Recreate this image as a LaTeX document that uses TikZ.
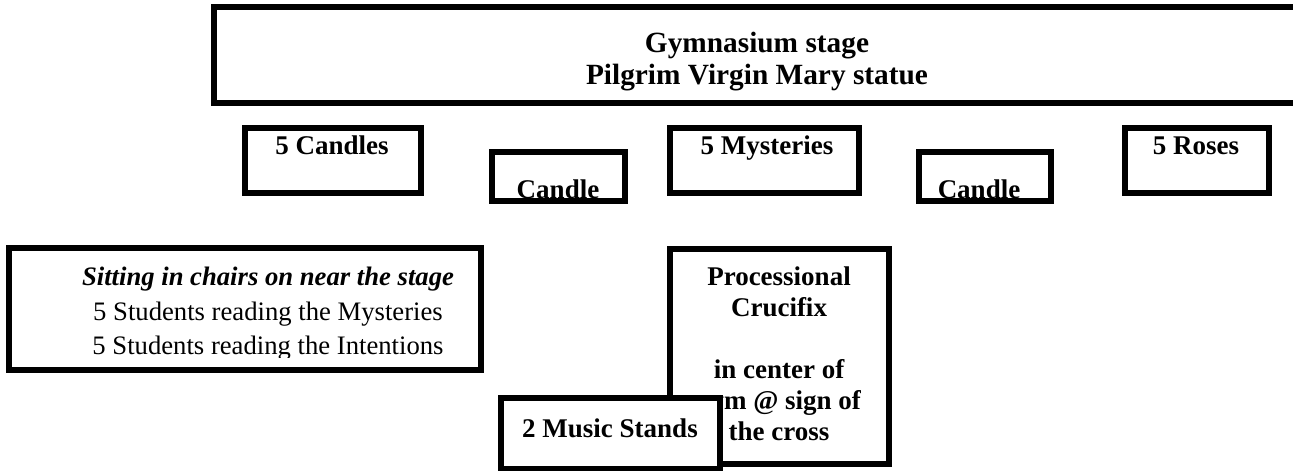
\documentclass[tikz,border=0pt]{standalone}
\usepackage{fontspec}
\setmainfont{Liberation Serif}
\usetikzlibrary{fit}
\begin{document}
\begin{tikzpicture}[x=0.75pt,y=-0.75pt,
  box/.style={draw=black, line width=4pt, fill=white, rectangle, inner sep=0pt, outer sep=0pt},
  lbl/.style={font=\fontsize{20.25}{24}\selectfont\bfseries, inner sep=0pt, anchor=base},
  ttl/.style={font=\fontsize{22}{26}\selectfont\bfseries, inner sep=0pt, anchor=base},
  plain/.style={font=\fontsize{20}{24}\selectfont, inner sep=0pt, anchor=base}]
\useasboundingbox (0,0) rectangle (1293,471);
\clip (0,0) rectangle (1293,471);
% stage
\node[box, fit={(214,7) (1320,103)}] (stage) {};
\node[ttl] (t1) at (757,52) {Gymnasium stage};
\node[ttl] (t2) at (757,84) {Pilgrim Virgin Mary statue};
% top row
\node[box, fit={(245,128) (421,193)}] (candles) {};
\node[lbl] (candlest) at (332,154) {5 Candles};
\node[box, fit={(492,152) (625,201)}] (candleA) {};
\node[lbl] (candleAt) at (558,198) {Candle};
\node[box, fit={(670,128) (859,193)}] (myst) {};
\node[lbl] (mystt) at (767,154) {5 Mysteries};
\node[box, fit={(919,152) (1051,201)}] (candleB) {};
\node[lbl] (candleBt) at (979,198) {Candle};
\node[box, fit={(1125,128) (1269,193)}] (roses) {};
\node[lbl] (rosest) at (1196,154) {5 Roses};
% sitting
\node[box, fit={(9,248) (481,370)}] (sit) {};
\begin{scope}
\clip (9,248) rectangle (481,357);
\node[lbl, font=\fontsize{20}{24}\selectfont\bfseries\itshape] (s1) at (268,285) {Sitting in chairs on near the stage};
\node[plain] (s2) at (268,320) {5 Students reading the Mysteries};
\node[plain] (s3) at (268,354) {5 Students reading the Intentions};
\end{scope}
% crucifix
\node[box, fit={(670,249) (889,464)}] (cruc) {};
\node[lbl] (c1) at (779,285) {Processional};
\node[lbl] (c2) at (779,316) {Crucifix};
\node[lbl] (c3) at (779,378) {in center of};
\node[lbl] (c4) at (779,409) {gym @ sign of};
\node[lbl] (c5) at (779,440) {the cross};
% music stands
\node[box, fit={(501,398) (720,469)}] (music) {};
\node[lbl] (mt) at (610,437) {2 Music Stands};
\end{tikzpicture}
\end{document}
